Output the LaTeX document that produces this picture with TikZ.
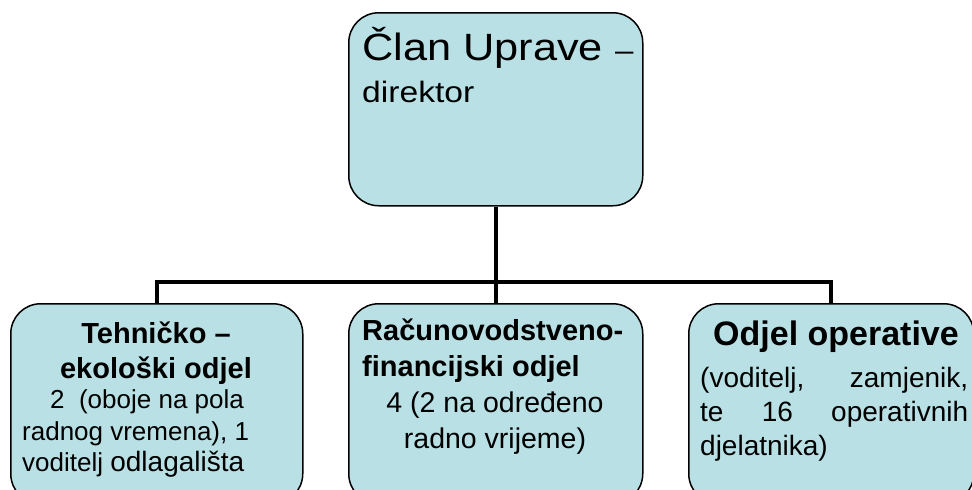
\documentclass[tikz,border=0pt]{standalone}
\usepackage{fontspec}
\setmainfont{Liberation Sans}
\newfontfamily\wideface[FakeStretch=1.14]{Liberation Sans}
\definecolor{boxfill}{RGB}{185,224,228}
\tikzset{
  unit/.style={draw=black, line width=1.5pt, fill=boxfill, rounded corners=30pt, inner sep=0pt, anchor=north west},
  link/.style={line width=4pt},
  txt/.style={inner sep=0pt, anchor=base west},
}

\begin{document}
\begin{tikzpicture}[x=1pt,y=-1pt]
    \useasboundingbox (0,0) rectangle (972,490);
    \clip (0,0) rectangle (972,490);
    % boxes
    \node[unit, minimum width=294pt, minimum height=193pt] (uprava) at (348,12) {};
    \node[unit, minimum width=292pt, minimum height=200pt] (tehnicki) at (10,303) {};
    \node[unit, minimum width=294pt, minimum height=200pt] (racunovodstvo) at (348,303) {};
    \node[unit, minimum width=285pt, minimum height=200pt] (operativa) at (688,303) {};
    % connectors
    \coordinate (bus) at (0,282);
    \draw[link] (uprava.south) -- (uprava.south |- bus);
    \draw[link] (tehnicki.north) -- (tehnicki.north |- bus) -- (operativa.north |- bus) -- (operativa.north);
    \draw[link] (racunovodstvo.north) -- (racunovodstvo.north |- bus);
    % top
    \node[txt] (clan) at (362,60) {\wideface\fontsize{38}{42}\selectfont Član Uprave \fontsize{29}{32}\selectfont –};
    \node[txt] (direktor) at (362,102) {\wideface\fontsize{29.5}{32}\selectfont direktor};
    % left
    \node[txt, anchor=base] (teh1) at (156,343) {\fontsize{29}{35}\selectfont\bfseries Tehničko –};
    \node[txt, anchor=base] (teh2) at (156,378) {\fontsize{29}{35}\selectfont\bfseries ekološki odjel};
    \node[txt] (teh3) at (50,408) {\fontsize{26}{31}\selectfont 2 \ (oboje na pola};
    \node[txt] (teh4) at (22,440) {\fontsize{26}{31}\selectfont radnog vremena), 1};
    \node[txt] (teh5) at (22,471) {\fontsize{26}{31}\selectfont voditelj \fontsize{28}{31}\selectfont odlagališta};
    % middle
    \node[txt] (rac1) at (362,340) {\fontsize{29}{35}\selectfont\bfseries Računovodstveno-};
    \node[txt] (rac2) at (362,376) {\fontsize{29}{35}\selectfont\bfseries financijski odjel};
    \node[txt, anchor=base] (rac3) at (495,412) {\fontsize{28.5}{36}\selectfont 4 (2 na određeno};
    \node[txt, anchor=base] (rac4) at (495,448) {\fontsize{28.5}{36}\selectfont radno vrijeme)};
    % right
    \node[txt, anchor=base] (op1) at (836,345) {\fontsize{34}{40}\selectfont\bfseries Odjel operative};
    \node[txt] (op2) at (700,387) {\fontsize{28}{34}\selectfont\makebox[268pt][s]{(voditelj, zamjenik,}};
    \node[txt] (op3) at (700,421) {\fontsize{28}{34}\selectfont\makebox[268pt][s]{te 16 operativnih}};
    \node[txt] (op4) at (700,455) {\fontsize{28}{34}\selectfont djelatnika)};
\end{tikzpicture}
\end{document}
